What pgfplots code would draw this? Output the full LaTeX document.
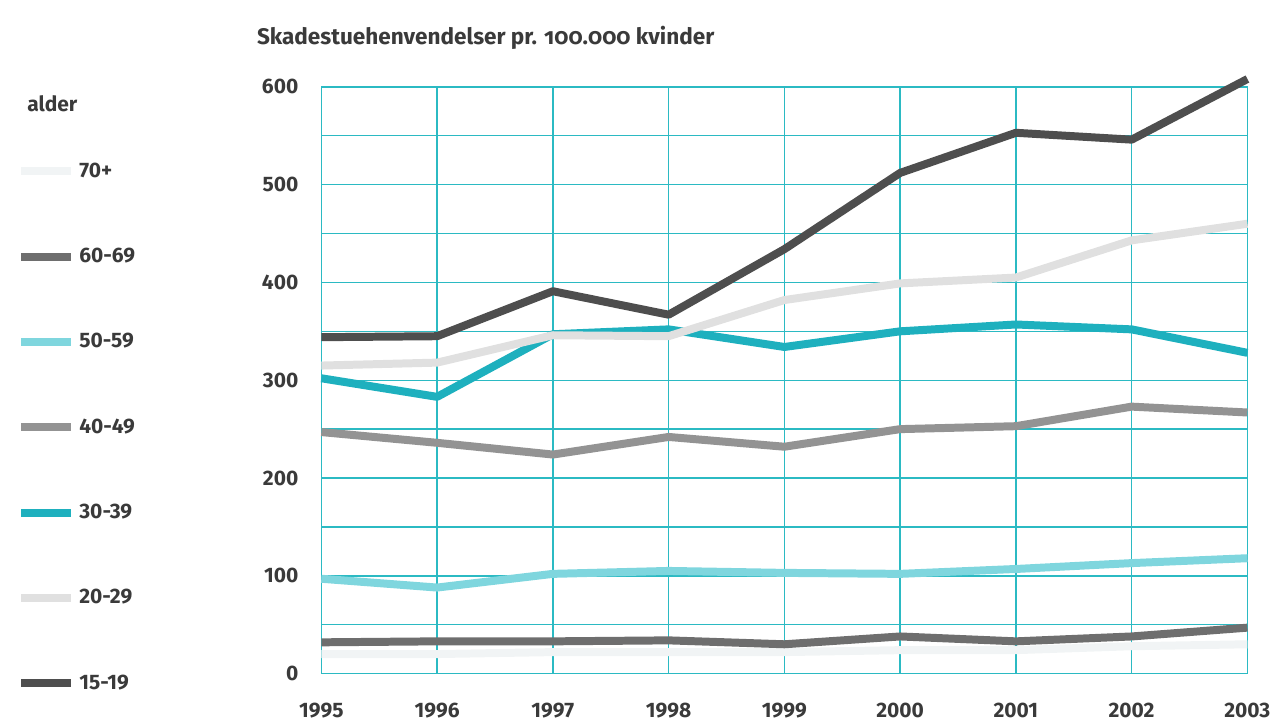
\documentclass[border=0pt]{standalone}
\usepackage{fontspec}
\setmainfont{Fira Sans}
\usepackage{pgfplots}
\pgfplotsset{compat=1.18}
\definecolor{gridc}{HTML}{2BBAC3}
\definecolor{c1519}{HTML}{4E4E4E}
\definecolor{c2029}{HTML}{E0E0E0}
\definecolor{c3039}{HTML}{1EB0BE}
\definecolor{c4049}{HTML}{939393}
\definecolor{c5059}{HTML}{7FD6DE}
\definecolor{c6069}{HTML}{6E6E6E}
\definecolor{c70}{HTML}{F1F4F5}
\definecolor{txt}{HTML}{3A3A3A}
\begin{document}
\begin{tikzpicture}
\begin{axis}[
  scale only axis, width=464pt, height=294pt,
  xmin=1995, xmax=2003, ymin=0, ymax=600,
  xtick={1995,...,2003}, ytick={0,100,...,600}, minor ytick={50,150,...,550},
  grid=both,
  major grid style={gridc, line width=0.7pt},
  minor grid style={gridc, line width=0.7pt},
  axis line style={gridc, line width=0.7pt},
  major tick length=0pt, minor tick length=0pt,
  /pgf/number format/assume math mode=true,
  /pgf/number format/1000 sep={},
  tick label style={font=\bfseries\fontsize{10.5}{12}\selectfont, text=txt},
  x tick label style={yshift=-11pt},
  y tick label style={xshift=-8pt},
  clip=false,
  legend style={at={(-0.335,0.885)}, anchor=north west, draw=none, fill=none,
    font=\bfseries\fontsize{10.5}{12}\selectfont, text=txt, row sep=30pt},
  legend cell align=left,
  legend image code/.code={\draw[#1, line width=4pt] (0pt,0pt) -- (25pt,0pt);},
  every axis plot/.append style={line width=4pt, line join=round},
]
\addplot[c70] coordinates {(1995,20) (1996,20) (1997,22) (1998,22) (1999,22) (2000,24) (2001,24) (2002,28) (2003,30)};
\addlegendentry{70+}
\addplot[c6069] coordinates {(1995,32) (1996,33) (1997,33) (1998,34) (1999,30) (2000,38) (2001,33) (2002,38) (2003,47)};
\addlegendentry{60-69}
\addplot[c5059] coordinates {(1995,97) (1996,88) (1997,102) (1998,105) (1999,103) (2000,102) (2001,107) (2002,113) (2003,118)};
\addlegendentry{50-59}
\addplot[c4049] coordinates {(1995,247) (1996,236) (1997,224) (1998,242) (1999,232) (2000,250) (2001,253) (2002,273) (2003,267)};
\addlegendentry{40-49}
\addplot[c3039] coordinates {(1995,302) (1996,283) (1997,347) (1998,352) (1999,334) (2000,350) (2001,357) (2002,352) (2003,328)};
\addlegendentry{30-39}
\addplot[c2029] coordinates {(1995,315) (1996,318) (1997,346) (1998,345) (1999,382) (2000,399) (2001,405) (2002,443) (2003,460)};
\addlegendentry{20-29}
\addplot[c1519] coordinates {(1995,344) (1996,345) (1997,391) (1998,367) (1999,434) (2000,512) (2001,553) (2002,546) (2003,608)};
\addlegendentry{15-19}
\node[anchor=west, font=\bfseries\fontsize{10.5}{12}\selectfont, text=txt] at (rel axis cs:-0.325,0.971) {alder};
\node[anchor=west, font=\bfseries\fontsize{11.3}{13}\selectfont\addfontfeatures{Numbers=OldStyle}, text=txt] at (rel axis cs:-0.077,1.083) {Skadestuehenvendelser pr. 100.000 kvinder};
\end{axis}
\path[use as bounding box] (current axis.south west) ++(-161pt,-27pt) rectangle ++(638.5pt,364.5pt);
\end{tikzpicture}
\end{document}
